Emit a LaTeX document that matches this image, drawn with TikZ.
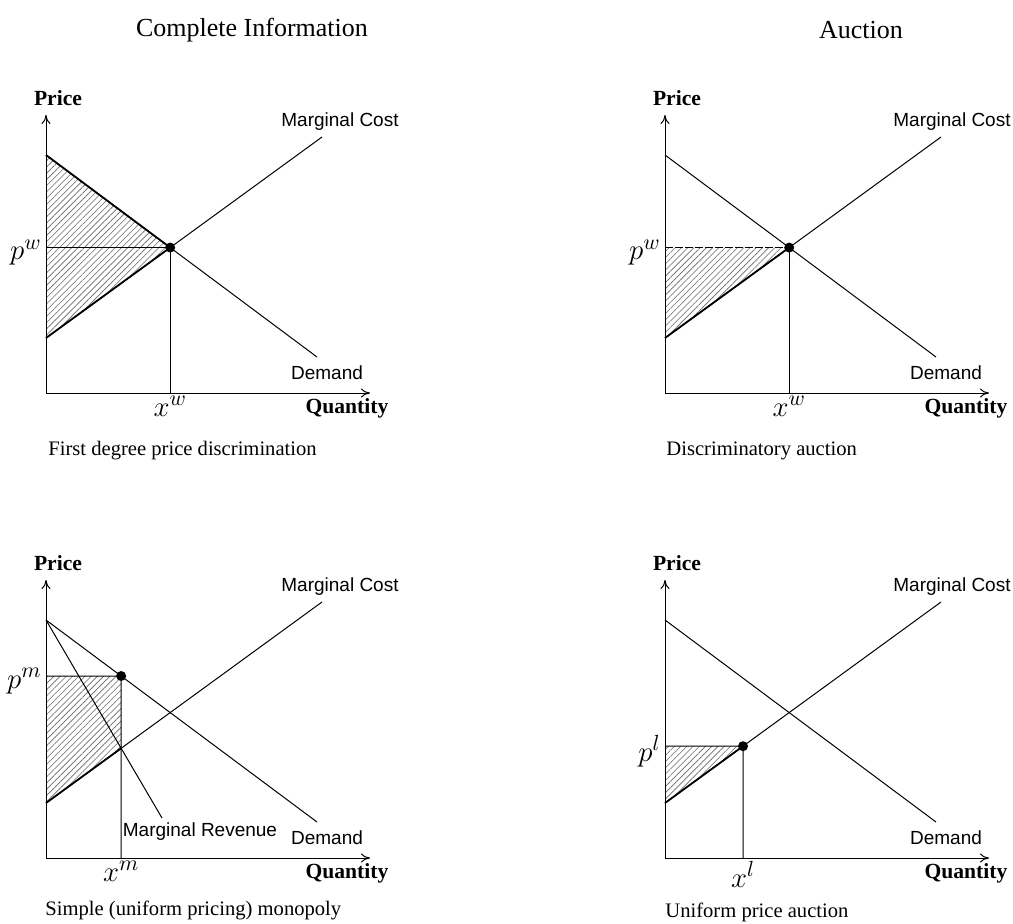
\documentclass[tikz,border=0pt]{standalone}
\usepackage{fontspec}
\setmainfont{Liberation Serif}
\setsansfont{Liberation Sans}
\usetikzlibrary{arrows.meta,patterns.meta,calc}

\newcommand{\mkcoords}[1]{%
  \coordinate (#1o) at (0,0);
  \coordinate (#1y) at (0,278);
  \coordinate (#1x) at (324,0);
  \coordinate (#1d0) at (0,238);
  \coordinate (#1d1) at (271,36);
  \coordinate (#1m0) at (0,55);
  \coordinate (#1m1) at (276,256);
}
\newcommand{\mkframe}[2]{%
  \draw[ln] (#1d0) -- (#1d1);
  \draw[ln] (#1m0) -- (#1m1);
  \draw[axis] (#1o) -- (#1y);
  \draw[axis] (#1o) -- (#1x);
  \node[axlabel] (#1price) at (12,295) {Price};
  \node[axlabel] (#1qty) at (301,-15) {Quantity};
  \node[curvelabel] (#1mcl) at (#2,271) {Marginal Cost};
  \node[curvelabel] (#1dl) at (281,20) {Demand};
}

\begin{document}
\begin{tikzpicture}[x=0.5pt,y=0.5pt,
  ln/.style={line width=0.5pt},
  thickln/.style={line width=0.9pt},
  axis/.style={line width=0.5pt,-{To[length=4.5pt,width=4.5pt]}},
  hatch/.style={pattern={Lines[angle=45,distance=2.2pt,line width=0.3pt]},pattern color=black!60},
  eqdot/.style={circle,fill=black,inner sep=0pt,minimum size=5pt},
  curvelabel/.style={font=\fontsize{9.5}{11}\sffamily},
  axlabel/.style={font=\fontsize{10.8}{13}\selectfont\bfseries},
  mathlabel/.style={font=\fontsize{15}{18}\selectfont, inner sep=0pt},
  caption/.style={font=\fontsize{10.3}{12}\selectfont, anchor=west, inner sep=0pt},
  title/.style={font=\fontsize{13}{16}\selectfont}
]
\useasboundingbox (0,0) rectangle (1013,-923);

\node[title] (t1) at (252,-30) {Complete Information};
\node[title] (t2) at (861,-30) {Auction};

% ---------- top left
\begin{scope}[shift={(46,-393)}]
  \mkcoords{a}
  \coordinate (aE) at (intersection of ad0--ad1 and am0--am1);
  \coordinate (aPw) at (ao |- aE);
  \coordinate (aXw) at (ao -| aE);
  \fill[hatch] (ad0) -- (aE) -- (am0) -- cycle;
  \mkframe{a}{294}
  \draw[thickln] (ad0) -- (aE) -- (am0);
  \draw[ln] (aPw) -- (aE) -- (aXw);
  \node[eqdot] (aeq) at (aE) {};
  \node[mathlabel, anchor=east] (apw) at ($(aPw)+(-4,-5)$) {$p^w$};
  \node[mathlabel, anchor=north] (axw) at ($(aXw)+(0,-3)$) {$x^w$};
  \node[caption] (acap) at (2,-58) {First degree price discrimination};
\end{scope}

% ---------- top right
\begin{scope}[shift={(665,-393)}]
  \mkcoords{b}
  \coordinate (bE) at (intersection of bd0--bd1 and bm0--bm1);
  \coordinate (bPw) at (bo |- bE);
  \coordinate (bXw) at (bo -| bE);
  \fill[hatch] (bPw) -- (bE) -- (bm0) -- cycle;
  \mkframe{b}{287}
  \draw[thickln] (bm0) -- (bE);
  \draw[ln, dashed, dash pattern=on 4pt off 1pt] (bPw) -- (bE);
  \draw[ln] (bE) -- (bXw);
  \node[eqdot] (beq) at (bE) {};
  \node[mathlabel, anchor=east] (bpw) at ($(bPw)+(-4,-5)$) {$p^w$};
  \node[mathlabel, anchor=north] (bxw) at ($(bXw)+(0,-3)$) {$x^w$};
  \node[caption] (bcap) at (1,-58) {Discriminatory auction};
\end{scope}

% ---------- bottom left
\begin{scope}[shift={(46,-858)}]
  \mkcoords{c}
  \coordinate (cr1) at (116,40);
  \coordinate (cK) at (intersection of cd0--cr1 and cm0--cm1);
  \coordinate (cXm) at (co -| cK);
  \coordinate (cTop) at (intersection of cd0--cd1 and cXm--cK);
  \coordinate (cPm) at (co |- cTop);
  \fill[hatch] (cPm) -- (cTop) -- (cK) -- (cm0) -- cycle;
  \mkframe{c}{294}
  \draw[ln] (cd0) -- (cr1);
  \draw[thickln] (cm0) -- (cK);
  \draw[ln] (cPm) -- (cTop) -- (cXm);
  \node[eqdot] (ceq) at (cTop) {};
  \node[curvelabel] (cmrl) at (154,26) {Marginal Revenue};
  \node[mathlabel, anchor=east] (cpm) at ($(cPm)+(-4,-5)$) {$p^m$};
  \node[mathlabel, anchor=north] (cxm) at ($(cXm)+(0,-3)$) {$x^m$};
  \node[caption] (ccap) at (-1,-52) {Simple (uniform pricing) monopoly};
\end{scope}

% ---------- bottom right
\begin{scope}[shift={(665,-858)}]
  \mkcoords{d}
  \coordinate (dXl) at (78,0);
  \coordinate (dXu) at (78,200);
  \coordinate (dK) at (intersection of dm0--dm1 and dXl--dXu);
  \coordinate (dPl) at (do |- dK);
  \fill[hatch] (dPl) -- (dK) -- (dm0) -- cycle;
  \mkframe{d}{287}
  \draw[thickln] (dm0) -- (dK);
  \draw[ln] (dPl) -- (dK) -- (dXl);
  \node[eqdot] (deq) at (dK) {};
  \node[mathlabel, anchor=east] (dpl) at ($(dPl)+(-4,-5)$) {$p^l$};
  \node[mathlabel, anchor=north] (dxl) at ($(dXl)+(0,-3)$) {$x^l$};
  \node[caption] (dcap) at (0,-54) {Uniform price auction};
\end{scope}
\end{tikzpicture}
\end{document}
